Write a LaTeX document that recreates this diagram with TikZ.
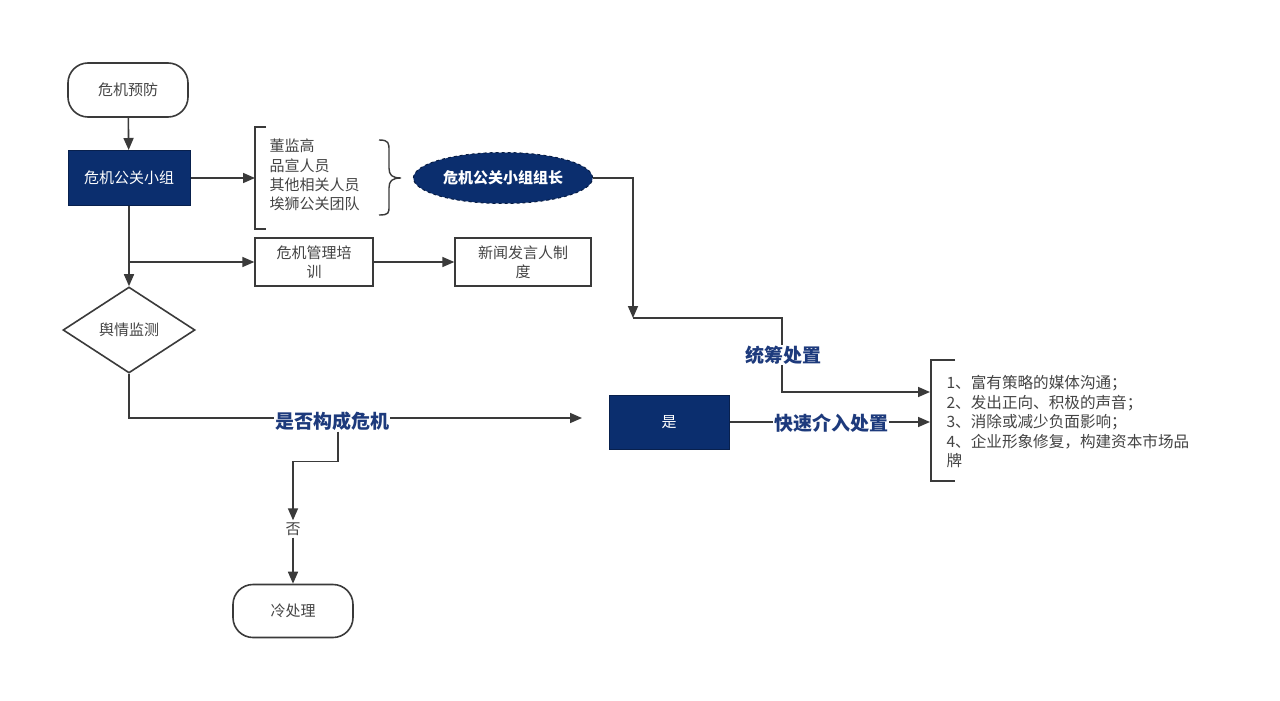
\documentclass[tikz,border=0pt]{standalone}
\usepackage{fontspec}
\setmainfont{Noto Sans CJK SC}
\usetikzlibrary{arrows.meta,shapes.geometric,calc}
\definecolor{navy}{HTML}{0B2E6E}
\definecolor{navytxt}{HTML}{1D3A7C}
\definecolor{linec}{HTML}{3A3A3A}
\definecolor{txtc}{HTML}{444444}
\begin{document}
\begin{tikzpicture}[x=1pt,y=-1pt,
  base/.style={font=\fontsize{15pt}{19.4pt}\selectfont, text=txtc, align=center},
  term/.style={base, draw=linec, line width=1.6pt, rounded corners=20pt, minimum width=120pt, minimum height=54pt},
  navybox/.style={base, fill=navy, draw=navy!70!black, line width=1pt, text=white, minimum width=122pt, minimum height=55pt},
  plainbox/.style={base, draw=linec, line width=1.4pt, minimum height=48pt},
  lbl/.style={font=\fontsize{19pt}{22pt}\selectfont\bfseries, text=navytxt, fill=white, inner sep=1pt},
  arr/.style={draw=linec, line width=1.6pt, -{Triangle[length=12pt,width=10pt]}},
  ln/.style={draw=linec, line width=1.6pt}]
\useasboundingbox[fill=white] (0,0) rectangle (1280,701);

% nodes
\node[term] (pre) at (128,90) {危机预防};
\node[navybox] (team) at (129,178) {危机公关小组};
\node[base, anchor=west] (members) at (266,177) {\begin{tabular}{@{}l@{}}董监高\\品宣人员\\其他相关人员\\埃狮公关团队\end{tabular}};
\node[base, ellipse, fill=navy, draw=navy!60!black, dashed, line width=1pt, minimum width=170pt, minimum height=51pt, text=white, font=\fontsize{15pt}{19pt}\selectfont\bfseries] (leader) at (503,178) {危机公关小组组长};
\node[plainbox, minimum width=118pt] (train) at (314,262) {危机管理培\\训};
\node[plainbox, minimum width=136pt] (news) at (523,262) {新闻发言人制\\度};
\node[base, diamond, draw=linec, line width=1.6pt, minimum width=132pt, minimum height=86pt, inner sep=0pt] (dia) at (129,330) {舆情监测};
\node[navybox, minimum width=120pt, minimum height=54pt] (yes) at (669,422) {是};
\node[term, minimum height=53pt] (cold) at (293,611) {冷处理};
\node[base, anchor=west, align=left, font=\fontsize{15.6pt}{19.5pt}\selectfont] (list) at (943,422) {1、富有策略的媒体沟通；\\2、发出正向、积极的声音；\\3、消除或减少负面影响；\\4、企业形象修复，构建资本市场品\\牌};

% coordinates
\coordinate (b1) at (255,178);
\coordinate (c1) at (633,318);
\coordinate (c2) at (582,418);
\coordinate (b2) at (930,392);
\coordinate (b3) at (930,422);
\coordinate (br) at (129,262);

% brackets and brace
\draw[ln, line width=1.4pt] (266,127) -- (255,127) -- (255,229) -- (266,229);
\draw[ln, line width=1.4pt] (955,360) -- (931,360) -- (931,481) -- (955,481);
\draw[ln, line width=1.4pt] (379,140) .. controls (389,140) and (389,143) .. (389,151) -- (389,168)
  .. controls (389,175) and (392,178) .. (401,178) .. controls (392,178) and (389,181) .. (389,188)
  -- (389,206) .. controls (389,213) and (389,215) .. (379,215);

% connectors
\draw[arr] (pre) -- (team);
\draw[arr] (team) -- (b1);
\draw[arr] (team) -- (dia);
\draw[arr] (br) -- (train);
\draw[arr] (train) -- (news);
\draw[arr] (leader.east) -| (c1);
\draw[arr] (c1) -- (782,318) |- (b2);
\draw[arr] (dia.south) |- (c2);
\draw[arr] (yes) -- (b3);

% labels on lines
\node[lbl] (tc) at (783,355) {统筹处置};
\node[lbl] (ks) at (831,423) {快速介入处置};
\node[lbl] (q) at (332,421) {是否构成危机};
\node[base, fill=white, inner sep=2pt] (no) at (293,529) {否};
\draw[arr] ($(q.south)+(6,0)$) -- ++(0,30) -| (no.north);
\draw[arr] (no.south) -- (cold.north);
\end{tikzpicture}
\end{document}
